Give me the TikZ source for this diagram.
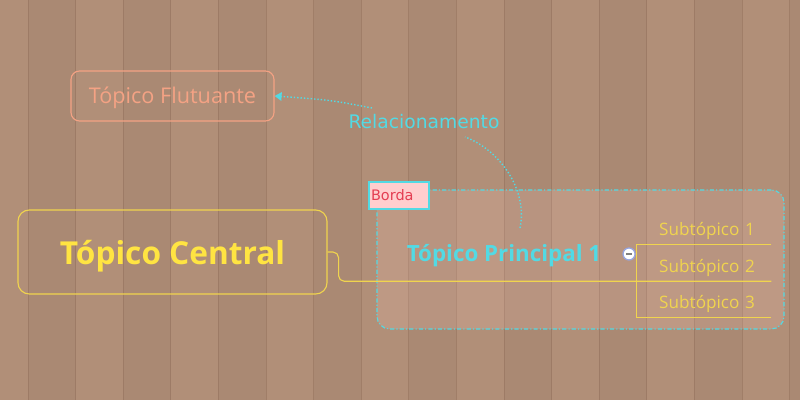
\documentclass[tikz,border=0pt]{standalone}
\usepackage{fontspec}
\setmainfont{Open Sans}
\newfontfamily\relfont{DejaVu Sans}
\usetikzlibrary{arrows.meta,positioning}
\definecolor{wood}{RGB}{177,143,120}
\definecolor{seam}{RGB}{145,110,90}
\definecolor{tint}{RGB}{255,205,195}
\definecolor{flutsalmon}{RGB}{244,162,132}
\definecolor{mapcyan}{RGB}{82,218,228}
\definecolor{mapyellow}{RGB}{255,228,66}
\definecolor{lineyellow}{RGB}{240,212,78}
\definecolor{bordapink}{RGB}{255,206,206}
\definecolor{bordared}{RGB}{228,62,82}
\definecolor{iconblue}{RGB}{150,165,225}

\begin{document}
\begin{tikzpicture}[
  >=Latex,
  %% Floating topic: salmon rounded box
  floatnode/.style={draw=flutsalmon,thick,rounded corners=6pt,minimum width=5.075cm,
                    minimum height=1.25cm,text=flutsalmon,text height=0.5cm,text depth=0.14cm,
                    font=\fontsize{15.4}{19}\selectfont},
  %% Central topic: large yellow rounded box
  centralnode/.style={draw=lineyellow,thick,rounded corners=8pt,minimum width=7.725cm,
                      minimum height=2.1cm,text=mapyellow,text height=0.84cm,text depth=0.19cm,
                      font=\bfseries\fontsize{22.5}{26}\selectfont},
  %% Main topic: bold cyan text only
  mainnode/.style={inner sep=0pt,text=mapcyan,font=\bfseries\fontsize{15.9}{19}\selectfont},
  %% Subtopics: yellow text over an underline
  subnode/.style={inner ysep=0pt,inner xsep=0.4cm,text width=2.55cm,align=right,
                  minimum width=3.35cm,minimum height=0.75cm,
                  text=lineyellow,text height=0.42cm,text depth=0.1cm,
                  font=\fontsize{12.2}{15}\selectfont},
  %% Boundary: dash-dot cyan, faintly lighter inside
  borderbox/.style={draw=mapcyan,thick,rounded corners=9pt,fill=tint,fill opacity=0.17,
                    draw opacity=1,dash pattern=on 3pt off 1.5pt on 0.8pt off 1.5pt,
                    minimum width=10.175cm,minimum height=3.475cm},
  bordalabel/.style={draw=mapcyan,thick,fill=bordapink,text=bordared,text width=1.4cm,
                     align=left,minimum height=0.675cm,inner xsep=0.05cm,inner ysep=2pt,
                     font=\relfont\fontsize{10.3}{12}\selectfont},
  rellabel/.style={inner sep=0pt,text=mapcyan,font=\relfont\fontsize{13.3}{16}\selectfont},
  %% Lines
  branch/.style={draw=lineyellow,line width=0.8pt},
  relline/.style={draw=mapcyan,line width=1pt,dash pattern=on 1pt off 1.4pt},
  foldicon/.style={circle,draw=iconblue,fill=white,line width=0.9pt,minimum size=0.3cm,inner sep=0pt}
]
\useasboundingbox (0,0) rectangle (20,10);

%% ---- WOOD BACKGROUND ----
\fill[wood] (0,0) rectangle (20,10);
\foreach \x in {0,2,...,16}
  \fill[black,opacity=0.035] ({0.7+1.19*\x},0) rectangle ++(1.19,10);
\foreach \x in {0,...,16}
  \draw[seam,line width=0.6pt,opacity=0.5] ({0.7+1.19*\x},0) -- ++(0,10);

%% ---- BOUNDARY ----
\node[borderbox] (bnd) at (14.5125,3.5125) {};
\node[bordalabel,anchor=north west] (borda) at ([shift={(-0.2,0.2)}]bnd.north west) {Borda};

%% ---- TOPICS ----
\node[floatnode]   (flt) at (4.3125,7.6) {Tópico Flutuante};
\node[centralnode] (ctr) at (4.3125,3.7) {Tópico Central};
\node[mainnode]    (tp1) at (12.6,3.6)   {Tópico Principal 1};

\node[subnode] (sub1) at (17.6,4.275) {Subtópico 1};
\node[subnode] (sub2) at (17.6,3.35)  {Subtópico 2};
\node[subnode] (sub3) at (17.6,2.45)  {Subtópico 3};

%% ---- BRANCHES ----
\draw[branch,rounded corners=4pt] (ctr.east) -- ++(0.275,0) |- (sub2.south east);
\draw[branch] (sub1.south east) -- (sub1.south west) |- (sub3.south east);

%% collapse icon
\node[foldicon] (fold) at (15.725,3.65) {};
\draw[gray,line width=1.1pt] ([xshift=-0.07cm]fold.center) -- ([xshift=0.07cm]fold.center);

%% ---- RELATIONSHIP (dotted, broken by its label) ----
\node[rellabel] (rel) at (10.6,6.95) {Relacionamento};
\coordinate (relin)  at (11.625,6.575);
\coordinate (relout) at (9.3,7.3);
\draw[relline] ([shift={(0.4,0.7)}]tp1.center) .. controls (13.2,5.25) and (12.5,6.25) .. (relin);
\draw[relline,-{Triangle[length=5pt,width=6pt]}] (relout) .. controls (8.25,7.5) .. (flt.east);

\end{tikzpicture}
\end{document}
